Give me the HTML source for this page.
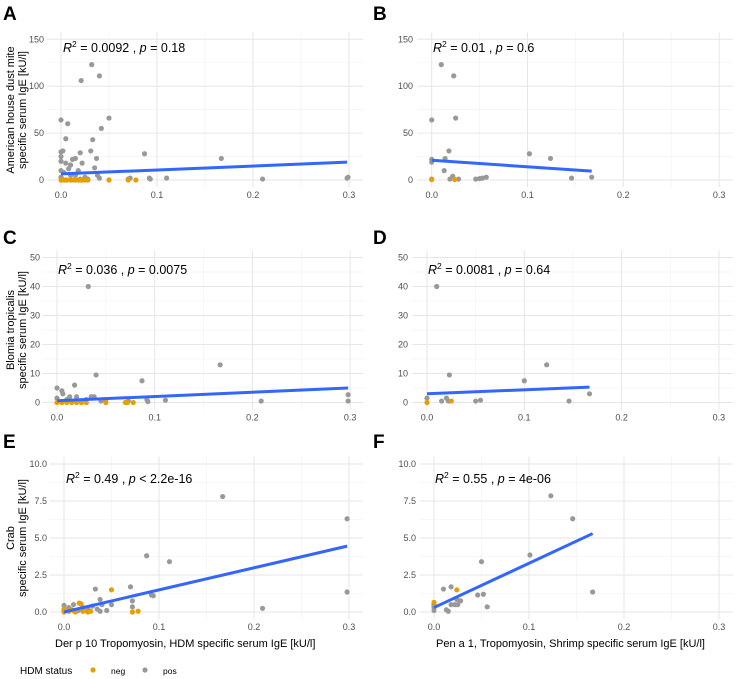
<!DOCTYPE html>
<html><head><meta charset="utf-8">
<style>
html,body{margin:0;padding:0;background:#fff;}
svg{display:block;font-family:"Liberation Sans",Arial,sans-serif;}
</style></head>
<body>
<svg id="chart" width="737" height="679" viewBox="0 0 737 679"></svg>
<script>
// ---- data ----
const panelLetters = ["A","B","C","D","E","F"];
const statsText = [
 ["0.0092","0.18","="],["0.01","0.6","="],["0.036","0.0075","="],
 ["0.0081","0.64","="],["0.49","2.2e-16","<"],["0.55","4e-06","="]];
const xTicks = [0,0.1,0.2,0.3];
const xTickLabels = ["0.0","0.1","0.2","0.3"];
const yTicksRow1 = [0,50,100,150];
const yTicksRow2 = [0,10,20,30,40,50];
const yTicksRow3 = [0,2.5,5,7.5,10];
const yTickLabelsRow3 = ["0.0","2.5","5.0","7.5","10.0"];
const posA = [[0,64],[0.007,60],[0.005,44],[0,30],[0.002,31],[0,25],[0,20],[0.005,18],[0.01,16],[0.012,22],[0.015,23],[0.02,29],[0.022,18],[0.021,106],[0.032,123],[0.04,111],[0.05,66],[0.042,55],[0.033,43],[0.031,31],[0.037,23],[0.035,13],[0.038,5],[0.04,2],[0.018,10],[0.025,3],[0.087,28],[0.167,23],[0.21,1],[0.298,2],[0.299,3],[0.093,1],[0.11,2],[0.072,2],[0.07,1],[0.02,1],[0.01,5],[0.003,8],[0.008,12],[0,3],[0,10],[0.015,5],[0.028,1],[0.092,2]];
const negA = [[0,0],[0.003,0],[0.006,0],[0.01,0],[0.012,0],[0.015,0],[0.02,0],[0.022,0],[0.028,0],[0.05,0],[0.07,0],[0.078,0],[0.005,0],[0.018,0],[0.025,0]];
const fitA = [[0,6.5],[0.298,19]];
const posB = [[0,64],[0.01,123],[0.023,111],[0.025,66],[0.018,31],[0.014,23],[0,22],[0,19],[0.013,10],[0.022,4],[0.019,1],[0.028,1],[0.046,1],[0.05,1.5],[0.053,2],[0.057,3],[0.102,28],[0.124,23],[0.146,2],[0.167,3],[0,1]];
const negB = [[0,0.5],[0.024,0.5]];
const fitB = [[0,21],[0.167,9.5]];
const posC = [[0,5],[0,1.5],[0.005,4],[0.006,3],[0.01,1],[0.013,2],[0.018,6],[0.02,2],[0.032,40],[0.04,9.5],[0.035,2],[0.038,2],[0.03,1],[0.087,7.5],[0.092,1],[0.093,0.3],[0.111,0.8],[0.167,13],[0.209,0.5],[0.298,2.7],[0.298,0.5],[0.05,1],[0.073,0.5],[0.045,0.5],[0.025,0.5]];
const negC = [[0,0],[0.005,0],[0.01,0],[0.015,0],[0.02,0],[0.025,0],[0.05,0],[0.07,0],[0.072,0],[0.078,0],[0.03,0]];
const fitC = [[0,0.6],[0.298,5]];
const posD = [[0,1.5],[0.015,0.5],[0.02,1.5],[0.022,0.5],[0.05,0.5],[0.055,0.8],[0.146,0.5],[0.167,3],[0.01,40],[0.023,9.5],[0.1,7.5],[0.123,13]];
const negD = [[0,0],[0.025,0.5]];
const fitD = [[0,3],[0.167,5.3]];
const posE = [[0.167,7.8],[0.298,6.3],[0.298,1.35],[0.087,3.8],[0.111,3.4],[0.209,0.25],[0.033,1.55],[0.07,1.7],[0.092,1.15],[0.094,1.1],[0.072,0.75],[0.072,0.35],[0.038,0.85],[0.04,0.5],[0.05,0.5],[0.035,0.2],[0.045,0.1],[0.038,0.05],[0,0.45],[0.005,0.3],[0.01,0.5],[0.02,0.3],[0.025,0.2],[0.03,0.4],[0.015,0.1],[0,0.1]];
const negE = [[0.05,1.5],[0.016,0.6],[0.018,0.55],[0.072,0],[0.078,0.05],[0,0],[0.005,0.05],[0.01,0.1],[0.012,0],[0.02,0.05],[0.025,0],[0.028,0.05],[0,0.2],[0.008,0.15]];
const fitE = [[0,0],[0.298,4.45]];
const posF = [[0.123,7.85],[0.146,6.3],[0.101,3.85],[0.05,3.4],[0.167,1.35],[0.01,1.55],[0.018,1.7],[0.052,1.2],[0.046,1.15],[0.056,0.35],[0.028,0.75],[0.024,0.85],[0.022,0.5],[0.025,0.5],[0.018,0.5],[0.013,0.15],[0.015,0.05],[0,0.4],[0,0.3],[0,0.1],[0,0.5]];
const negF = [[0,0.65],[0.024,1.5]];
const fitF = [[0,0.3],[0.167,5.3]];
const yTitles=[["American house dust mite",110],["Blomia tropicalis",330],["Crab",538]];

// ---- layout ----
const NS="http://www.w3.org/2000/svg";
const svg=document.getElementById("chart");
function mk(tag,attrs,parent){const e=document.createElementNS(NS,tag);for(const k in attrs)e.setAttribute(k,attrs[k]);(parent||svg).appendChild(e);return e;}

const panels=[
 {x0:61,per:96,y0:180,yTopVal:150,yTopPx:39.3,ticks:yTicksRow1,tl:yTicksRow1.map(String),right:363,lx:44,letterY:20,annX:63,annY:52,pos:posA,neg:negA,fit:fitA},
 {x0:431.7,per:95.8,y0:180,yTopVal:150,yTopPx:39.3,ticks:yTicksRow1,tl:yTicksRow1.map(String),right:733,lx:413,letterY:20,annX:433,annY:52,pos:posB,neg:negB,fit:fitB},
 {x0:57,per:97.7,y0:402.5,yTopVal:50,yTopPx:257.5,ticks:yTicksRow2,tl:yTicksRow2.map(String),right:363,lx:40,letterY:244,annX:58,annY:274,pos:posC,neg:negC,fit:fitC},
 {x0:427,per:97.3,y0:402.5,yTopVal:50,yTopPx:257.5,ticks:yTicksRow2,tl:yTicksRow2.map(String),right:733,lx:408,letterY:244,annX:428,annY:274,pos:posD,neg:negD,fit:fitD},
 {x0:64,per:95,y0:612,yTopVal:10,yTopPx:464,ticks:yTicksRow3,tl:yTickLabelsRow3,right:363,lx:47,letterY:448,annX:66,annY:483,pos:posE,neg:negE,fit:fitE},
 {x0:434,per:95,y0:612,yTopVal:10,yTopPx:464,ticks:yTicksRow3,tl:yTickLabelsRow3,right:733,lx:416,letterY:448,annX:435,annY:483,pos:posF,neg:negF,fit:fitF}
];

panels.forEach((p,i)=>{
 const g=mk("g",{});
 
 
 const sx=v=>p.x0+v*p.per*10;
 const sy=v=>p.y0-(v/p.yTopVal)*(p.y0-p.yTopPx);
 const left=sx(-0.015), right=p.right;
 const ext=p.yTopVal*0.05;
 const top=sy(p.yTopVal+ext), bot=sy(-ext);
 [0.05,0.15,0.25].forEach(v=>mk("line",{x1:sx(v),x2:sx(v),y1:top,y2:bot,stroke:"#f0f0f0","stroke-width":0.6},g));
 for(let k=0;k<p.ticks.length-1;k++){const m=(p.ticks[k]+p.ticks[k+1])/2;mk("line",{x1:left,x2:right,y1:sy(m),y2:sy(m),stroke:"#f0f0f0","stroke-width":0.6},g);}
 xTicks.forEach(v=>mk("line",{x1:sx(v),x2:sx(v),y1:top,y2:bot,stroke:"#e6e6e6","stroke-width":1},g));
 p.ticks.forEach(v=>mk("line",{x1:left,x2:right,y1:sy(v),y2:sy(v),stroke:"#e6e6e6","stroke-width":1},g));
 xTicks.forEach((v,k)=>{const t=mk("text",{x:sx(v),y:p.y0+18,"text-anchor":"middle","font-size":9,fill:"#4d4d4d"},g);t.textContent=xTickLabels[k];
  });
 p.ticks.forEach((v,k)=>{const t=mk("text",{x:p.lx,y:sy(v)+3,"text-anchor":"end","font-size":9,fill:"#4d4d4d"},g);t.textContent=p.tl[k];
  });
 p.pos.forEach(d=>{const c=mk("circle",{cx:sx(d[0]),cy:sy(d[1]),r:2.6,fill:"#999999"},g);
  });
 p.neg.forEach(d=>{const c=mk("circle",{cx:sx(d[0]),cy:sy(d[1]),r:2.6,fill:"#E69F00"},g);
  });
 const ln=mk("line",{x1:sx(p.fit[0][0]),y1:sy(p.fit[0][1]),x2:sx(p.fit[1][0]),y2:sy(p.fit[1][1]),stroke:"#3366FF","stroke-width":3},g);
 
 const s=statsText[i];
 const a=mk("text",{x:p.annX,y:p.annY,"font-size":12.5,fill:"#000"},g);
 
 a.innerHTML='<tspan font-style="italic">R</tspan><tspan dy="-5" font-size="8.5">2</tspan><tspan dy="5"> = '+s[0]+' , </tspan><tspan font-style="italic">p</tspan><tspan> '+s[2]+' '+s[1]+'</tspan>';
 const L=mk("text",{x:p.annX<400?3:373,y:p.letterY,"font-size":19,"font-weight":"bold",fill:"#000"},g);
 L.textContent=panelLetters[i];
 
});

yTitles.forEach(t=>{
 const g=mk("g",{"font-size":11,fill:"#000"});
 
 
 const a=mk("text",{transform:"translate(14,"+t[1]+") rotate(-90)","text-anchor":"middle"},g);a.textContent=t[0];
 const b=mk("text",{transform:"translate(26,"+t[1]+") rotate(-90)","text-anchor":"middle"},g);b.textContent="specific serum IgE [kU/l]";
});
const xt1=mk("text",{x:55,y:647,"font-size":11,fill:"#000"});xt1.textContent="Der p 10 Tropomyosin, HDM specific serum IgE [kU/l]";


const xt2=mk("text",{x:436,y:647,"font-size":11,fill:"#000"});xt2.textContent="Pen a 1, Tropomyosin, Shrimp specific serum IgE [kU/l]";


const lg=mk("g",{});


const lt=mk("text",{x:20,y:674,"font-size":10,fill:"#000"},lg);lt.textContent="HDM status";
const c1=mk("circle",{cx:93,cy:670,r:2.6,fill:"#E69F00"},lg);


const t1=mk("text",{x:111,y:674,"font-size":8.5,fill:"#000"},lg);t1.textContent="neg";
const c2=mk("circle",{cx:145,cy:670,r:2.6,fill:"#999999"},lg);


const t2=mk("text",{x:163,y:674,"font-size":8.5,fill:"#000"},lg);t2.textContent="pos";
</script>
</body></html>
